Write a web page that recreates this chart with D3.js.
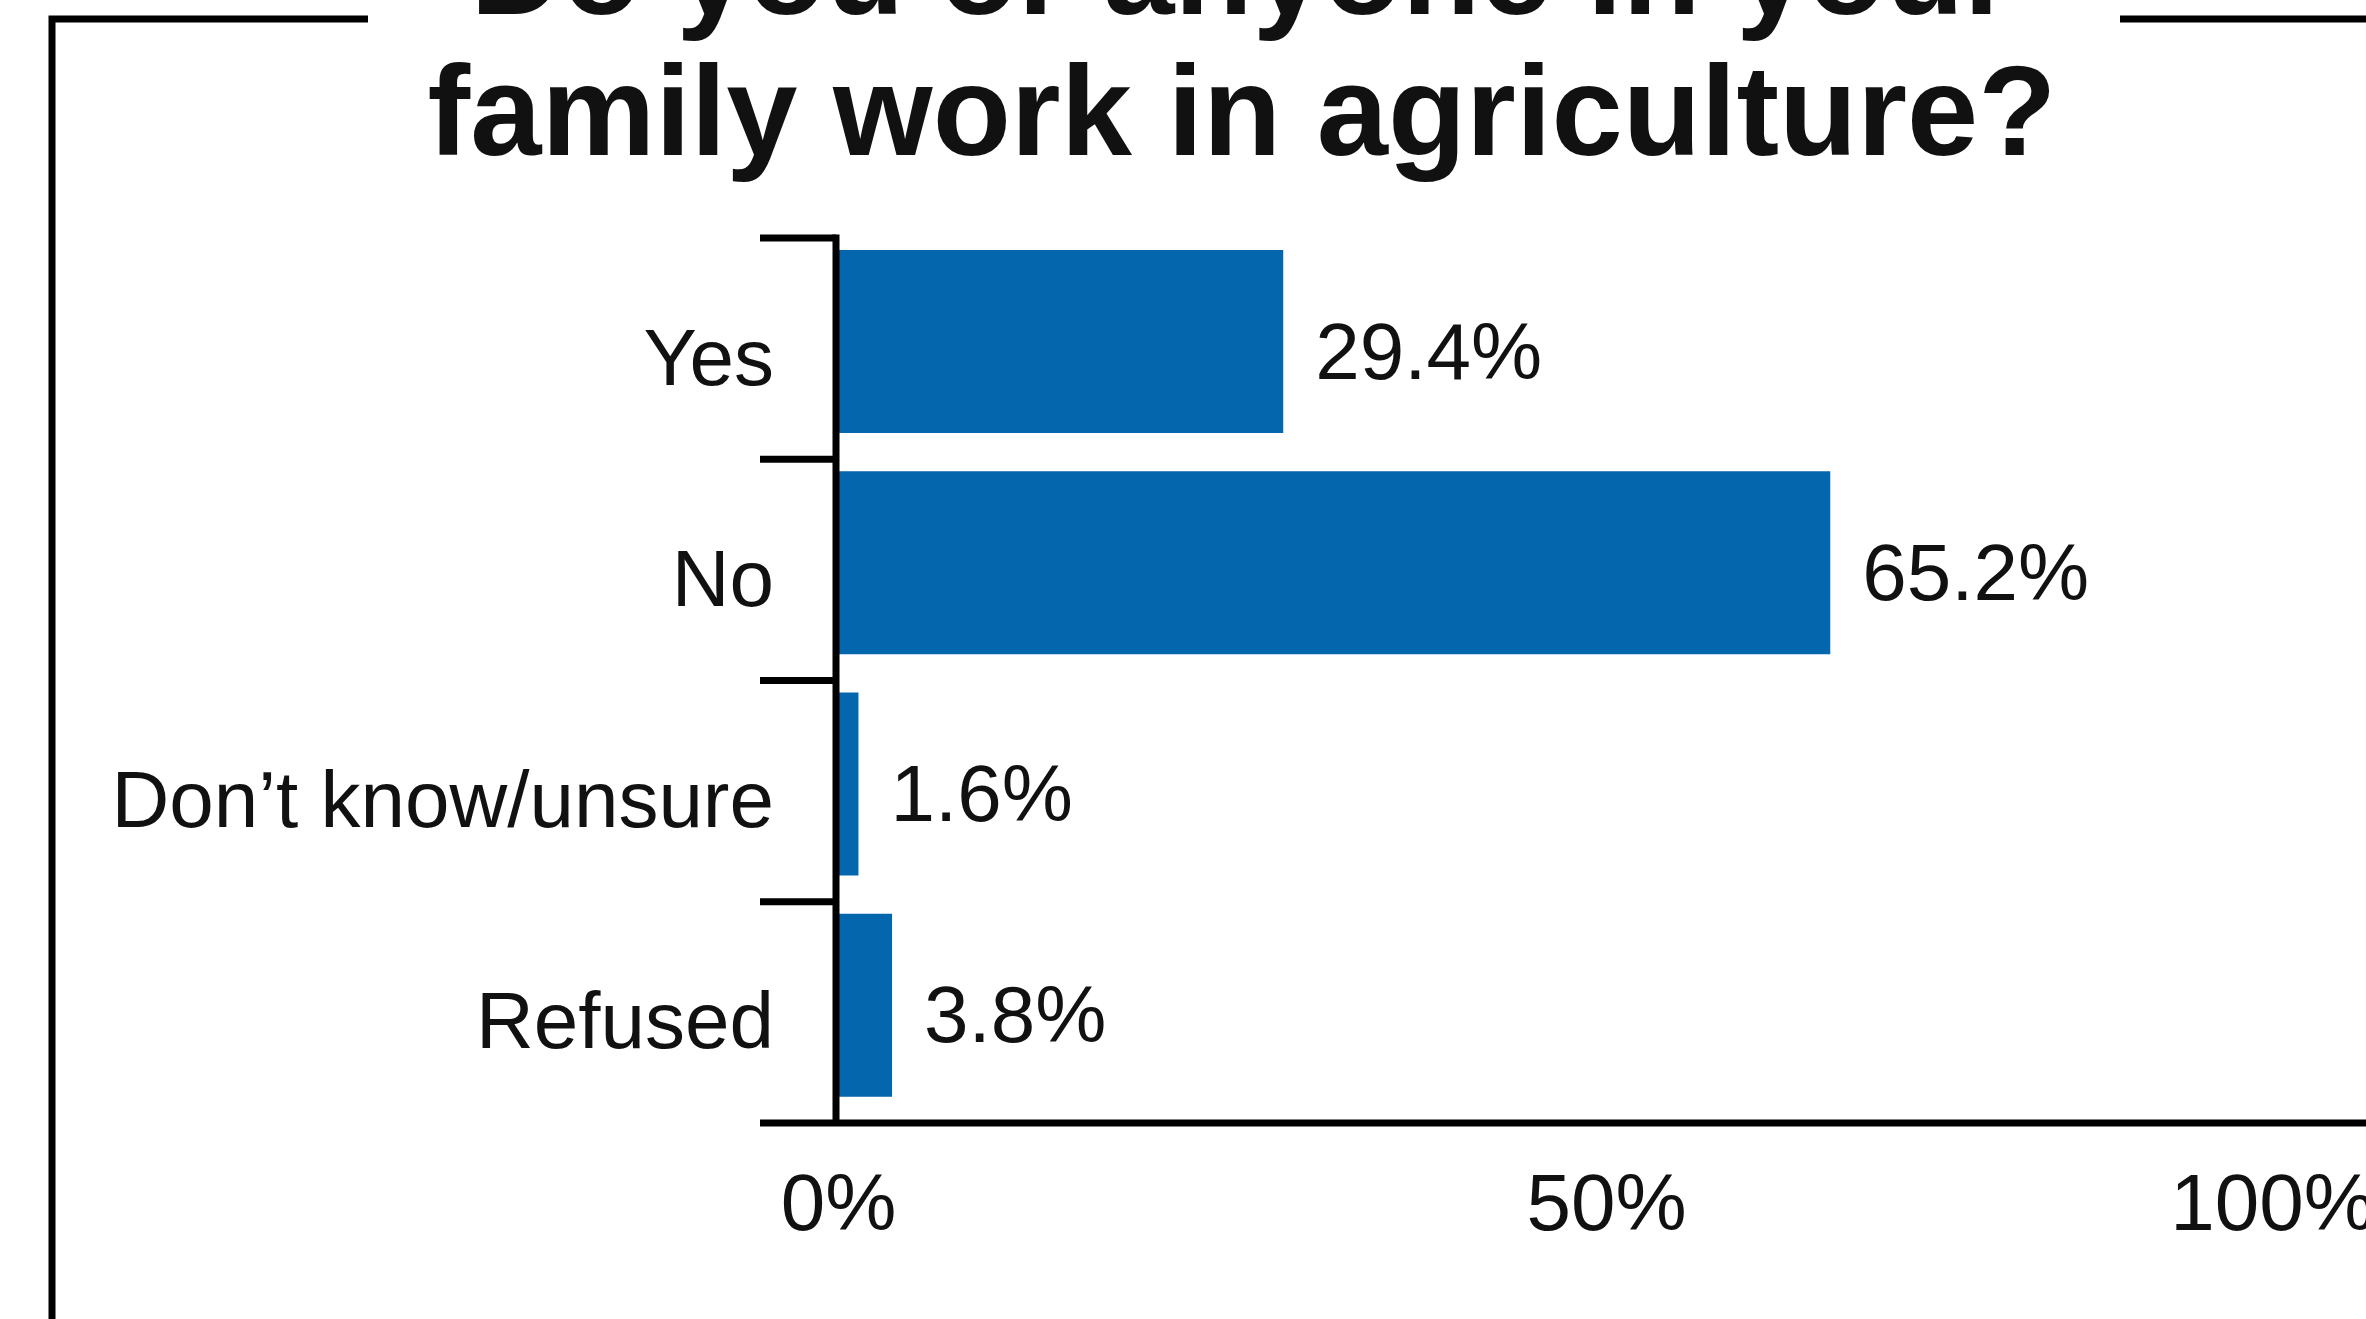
<!DOCTYPE html>
<html>
<head>
<meta charset="utf-8">
<script src="https://cdn.jsdelivr.net/npm/d3@7"></script>
<style>
  html, body { margin: 0; padding: 0; background: #fff; overflow: hidden; }
  svg { display: block; }
  text { font-family: "Liberation Sans", Arial, Helvetica, sans-serif; fill: #111; }
</style>
</head>
<body>
<svg id="chart" width="2366" height="1319"></svg>
<script>
// Survey responses (percent of respondents)
const categories = ["Yes", "No", "Don\u2019t know/unsure", "Refused"];
const values = [29.4, 65.2, 1.6, 3.8];
const xTickValues = [0, 50, 100];
const titleLines = ["Do you or anyone in your", "family work in agriculture?"];

const W = 2366, H = 1319;
const svg = d3.select("#chart");

const barColor = "#0466ad";
const lineW = 7;

// Scales
const x = d3.scaleLinear().domain([0, 100]).range([834, 2362]);
const y = d3.scaleBand().domain(categories).range([238, 1123]).padding(0);
const barTop = 12, barH = 183;

// Outer frame with a gap in the top edge for the title
svg.append("path")
  .attr("d", `M52,${H + 10} L52,19 L368,19 M2120,19 L${W + 10},19`)
  .attr("fill", "none")
  .attr("stroke", "#000")
  .attr("stroke-width", lineW);

// Title
const title = svg.append("text")
  .attr("x", 1242)
  .attr("text-anchor", "middle")
  .style("font-weight", "bold")
  .style("font-size", "128px");
titleLines.forEach((t, i) => {
  title.append("tspan").attr("x", 1242).attr("y", 14 + i * 141).text(t);
});

// Bars
svg.append("g").selectAll("rect")
  .data(categories)
  .join("rect")
  .attr("x", x(0))
  .attr("y", d => y(d) + barTop)
  .attr("width", (d, i) => x(values[i]) - x(0))
  .attr("height", barH)
  .attr("fill", barColor);

// Value labels
svg.append("g").selectAll("text")
  .data(categories)
  .join("text")
  .attr("x", (d, i) => x(values[i]) + 32)
  .attr("y", d => y(d) + barTop + barH / 2 + 37)
  .style("font-size", "80px")
  .text((d, i) => d3.format(".1f")(values[i]) + "%");

// Category axis: labels at band centres, tick marks at band boundaries
const yAxis = svg.append("g")
  .attr("transform", `translate(${x(0) + 2},0)`)
  .call(d3.axisLeft(y).tickSize(0).tickPadding(62));
yAxis.select(".domain").remove();
yAxis.selectAll("text")
  .attr("dy", "0.45em")
  .style("font-size", "80px")
  .style("font-family", '"Liberation Sans", Arial, sans-serif')
  .attr("fill", "#111");

const boundaries = categories.map(c => y(c));
svg.append("g").selectAll("line")
  .data(boundaries)
  .join("line")
  .attr("x1", 760).attr("x2", x(0) + 2)
  .attr("y1", d => d).attr("y2", d => d)
  .attr("stroke", "#000").attr("stroke-width", lineW);

// Vertical axis line
svg.append("line")
  .attr("x1", x(0) + 2).attr("x2", x(0) + 2)
  .attr("y1", y.range()[0] - lineW / 2).attr("y2", y.range()[1])
  .attr("stroke", "#000").attr("stroke-width", lineW);

// Value axis
const axisY = y.range()[1];
svg.append("line")
  .attr("x1", 760).attr("x2", W + 10)
  .attr("y1", axisY).attr("y2", axisY)
  .attr("stroke", "#000").attr("stroke-width", lineW);

const xAxis = svg.append("g")
  .attr("transform", `translate(0,${axisY})`)
  .call(d3.axisBottom(x).tickValues(xTickValues).tickSize(0).tickFormat(d => d + "%"));
xAxis.select(".domain").remove();
xAxis.selectAll("text")
  .attr("y", 107)
  .attr("dy", 0)
  .style("font-size", "80px")
  .style("font-family", '"Liberation Sans", Arial, sans-serif')
  .attr("fill", "#111")
  .attr("dx", d => d === 0 ? 4 : d === 50 ? 8 : -90);
</script>
</body>
</html>
